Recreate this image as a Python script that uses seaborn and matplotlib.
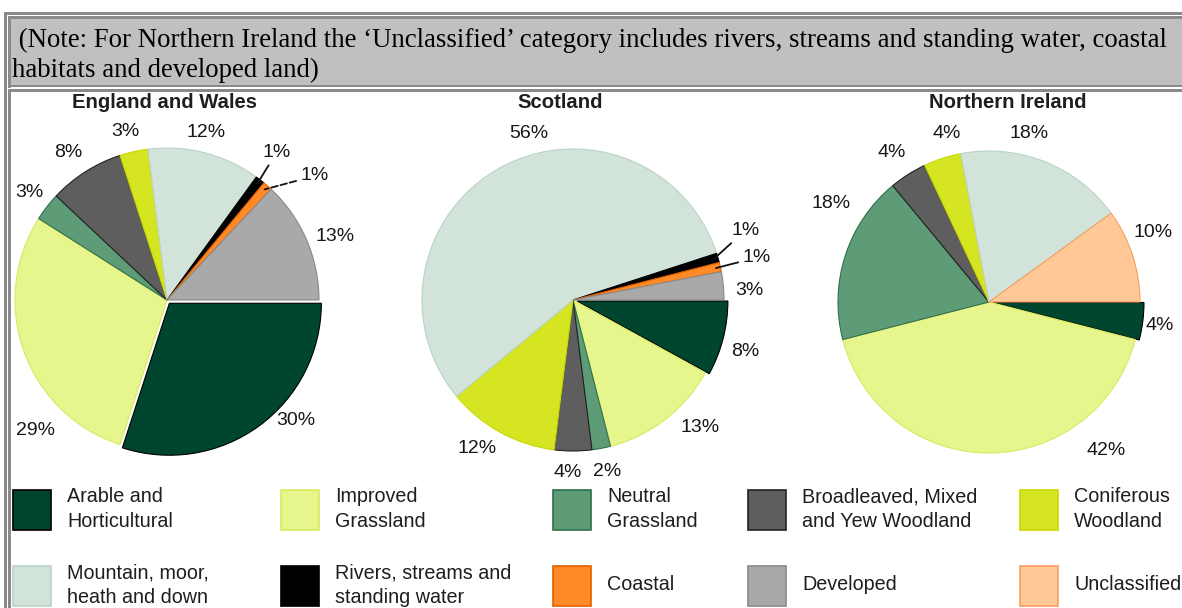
import math
import matplotlib
matplotlib.use("Agg")
import matplotlib.pyplot as plt
import seaborn as sns
from matplotlib.patches import Rectangle

# ---------------- data ----------------
keys_gb = ["arable", "improved", "neutral", "broadleaved", "coniferous",
           "mountain", "rivers", "coastal", "developed"]
keys_ni = ["arable", "improved", "neutral", "broadleaved", "coniferous",
           "mountain", "unclassified"]

england_wales = [30, 29, 3, 8, 3, 12, 1, 1, 13]
scotland = [8, 13, 2, 4, 12, 56, 1, 1, 3]
northern_ireland = [4, 42, 18, 4, 4, 18, 10]

titles = ["England and Wales", "Scotland", "Northern Ireland"]

legend_keys = ["arable", "improved", "neutral", "broadleaved", "coniferous",
               "mountain", "rivers", "coastal", "developed", "unclassified"]
legend_labels = ["Arable and\nHorticultural", "Improved\nGrassland", "Neutral\nGrassland",
                 "Broadleaved, Mixed\nand Yew Woodland", "Coniferous\nWoodland",
                 "Mountain, moor,\nheath and down", "Rivers, streams and\nstanding water",
                 "Coastal", "Developed", "Unclassified"]

note_lines = [" (Note: For Northern Ireland the \u2018Unclassified\u2019 category includes rivers, "
              "streams and standing water, coastal",
              "habitats and developed land)"]

# ---------------- style ----------------
hexes = ["#00452E", "#E6F58C", "#5E9C78", "#5E5E5E", "#D6E522",
         "#D2E3DA", "#000000", "#FF8A26", "#A9A9A9", "#FFC896"]
edges = ["#000000", "#D8EA60", "#2F6F4A", "#222222", "#C9D800",
         "#BBD3C6", "#000000", "#E06000", "#8A8A8A", "#F5A060"]
pal = dict(zip(legend_keys, sns.color_palette(hexes)))
edge_pal = dict(zip(legend_keys, edges))

sns.set_theme(style="white")
plt.rcParams["font.family"] = ["Liberation Sans", "DejaVu Sans"]

W, H = 1182, 608
fig = plt.figure(figsize=(W / 100, H / 100), dpi=100)
ax = fig.add_axes([0, 0, 1, 1])
ax.set_xlim(0, W)
ax.set_ylim(0, H)
ax.set_aspect("equal")
ax.axis("off")


def rect(x, y, w, h, color, z=0, ec="none", lw=0):
    ax.add_patch(Rectangle((x, H - y - h), w, h, facecolor=color,
                           edgecolor=ec, linewidth=lw, zorder=z))


# frame (HTML table look)
border = "#8a8a8a"
rect(4, 12, W, 2.5, border)
rect(4, 12, 2.5, H, border)
rect(8, 16, W, 2.5, border)
rect(8, 16, 2.5, 72, border)
rect(10.5, 18.5, W, 66, "#C0C0C0")
rect(8, 84.5, W, 2.5, border)
rect(8, 89, W, 2.5, border)
rect(8, 89, 2.5, H, border)

for line, base in zip(note_lines, [47, 77]):
    ax.text(12, H - base, line, ha="left", va="baseline",
            family=["Liberation Serif", "DejaVu Serif"], fontsize=19.3,
            color="#000000")

# pies: center px, radius px, label angle nudges (deg), label radius factors
pies = [
    dict(vals=england_wales, keys=keys_gb, c=(167, 300), r=152,
         nudge=[11, 25, -0.2, 1.4, 1.4, 1.4, 1.2, -8.6, -2.8],
         rad=[1.16, 1.22, 1.15, 1.17, 1.14, 1.13, 1.21, 1.27, 1.18],
         leaders={"rivers": "-", "coastal": "--"}, title_x=164),
    dict(vals=scotland, keys=keys_gb, c=(573, 300), r=151,
         nudge=[-2.4, 7, 0.4, -1.7, -4.2, -13.8, 5.8, 0.4, -2.2],
         rad=[1.19, 1.19, 1.16, 1.14, 1.17, 1.14, 1.23, 1.25, 1.17],
         leaders={"rivers": "-", "coastal": "-"}, title_x=560),
    dict(vals=northern_ireland, keys=keys_ni, c=(989, 302), r=151,
         nudge=[-0.5, 38.3, -14, 0.6, -4, 8.3, 5],
         rad=[1.14, 1.25, 1.23, 1.18, 1.15, 1.15, 1.18],
         leaders={}, title_x=1008),
]

label_color = "#161616"
for p, title in zip(pies, titles):
    cx, cy = p["c"][0], H - p["c"][1]
    r = p["r"]
    cols = [pal[k] for k in p["keys"]]
    explode = [4 if k == "arable" else 0 for k in p["keys"]]
    wedges, _ = ax.pie(p["vals"], colors=cols, startangle=0, counterclock=False,
                       center=(cx, cy), radius=r, explode=explode, frame=True,
                       wedgeprops=dict(linewidth=0.8))
    for w, k in zip(wedges, p["keys"]):
        w.set_edgecolor(edge_pal[k])
    for w, k, v, nd, rf in zip(wedges, p["keys"], p["vals"], p["nudge"], p["rad"]):
        mid = 0.5 * (w.theta1 + w.theta2)
        ang = math.radians(mid + nd)
        lx, ly = cx + r * rf * math.cos(ang), cy + r * rf * math.sin(ang)
        txt = f"{v}%"
        if k in p["leaders"]:
            ma = math.radians(mid)
            px, py = cx + 0.97 * r * math.cos(ma), cy + 0.97 * r * math.sin(ma)
            ax.annotate(txt, xy=(px, py), xytext=(lx, ly), ha="center", va="center",
                        fontsize=14, color=label_color,
                        arrowprops=dict(arrowstyle="-", color="#111111", lw=1.3,
                                        linestyle=p["leaders"][k],
                                        shrinkA=1, shrinkB=0))
        else:
            ax.text(lx, ly, txt, ha="center", va="center", fontsize=14,
                    color=label_color)
    ax.text(p["title_x"], H - 103, title, ha="center", va="center",
            fontsize=14.6, fontweight="bold", color="#1e1e1e")

ax.set_xlim(0, W)
ax.set_ylim(0, H)

# legend
col_x = [13, 281, 553, 748, 1020]
row_top = [490, 566]
row_mid = [509, 585]
sw_w, sw_h = 38, 40
for i, (k, lab) in enumerate(zip(legend_keys, legend_labels)):
    row, col = divmod(i, 5)
    x, y = col_x[col], row_top[row]
    rect(x, y, sw_w, sw_h, pal[k], z=3, ec=edge_pal[k], lw=1.2)
    ax.text(x + 54, H - row_mid[row], lab, ha="left", va="center",
            fontsize=14.2, color="#1e1e1e", linespacing=1.36, zorder=4)

fig.savefig("out.png", dpi=100, facecolor="white")
